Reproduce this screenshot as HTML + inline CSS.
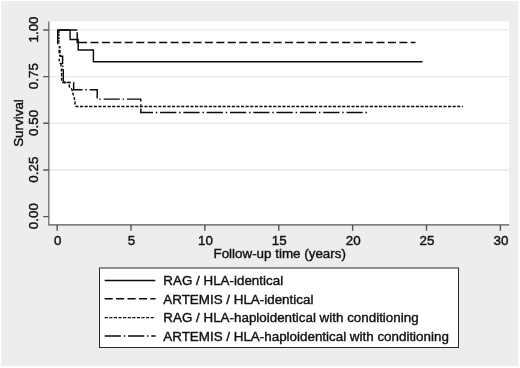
<!DOCTYPE html>
<html><head><meta charset="utf-8"><title>Survival</title>
<style>
html,body{margin:0;padding:0;background:#fff;}
body{width:520px;height:368px;overflow:hidden;}
svg{display:block;}
text{font-family:"Liberation Sans",sans-serif;font-size:13.4px;fill:#111;stroke:#111;stroke-width:0.4px;}
</style></head><body>
<svg width="520" height="368" viewBox="0 0 520 368">
<rect x="0" y="0" width="520" height="368" fill="#fff"/>
<rect x="1.2" y="1.1" width="517.4" height="364.9" fill="#ededed"/>
<rect x="48.5" y="21.4" width="460.6" height="203.6" fill="#fff"/>
<!-- grid -->
<g stroke="#e9e9e9" stroke-width="1.3">
<line x1="48.5" x2="509.1" y1="29.8" y2="29.8"/>
<line x1="48.5" x2="509.1" y1="76.6" y2="76.6"/>
<line x1="48.5" x2="509.1" y1="123.3" y2="123.3"/>
<line x1="48.5" x2="509.1" y1="170" y2="170"/>
</g>
<!-- axes -->
<g stroke="#555" stroke-width="1.15" fill="none">
<path d="M48.85 21.4V224.9H509.1"/>
<path stroke-width="1.4" d="M43.2 30H48.85M43.2 76.65H48.85M43.2 123.3H48.85M43.2 170H48.85M43.2 216.65H48.85"/>
<path stroke-width="1.4" d="M57.15 225V230.7M131.03 225V230.7M204.90 225V230.7M278.77 225V230.7M352.65 225V230.7M426.52 225V230.7M500.40 225V230.7"/>
</g>
<!-- curves -->
<g stroke="#0a0a0a" stroke-width="1.45" fill="none" stroke-linejoin="miter">
<path d="M57.6 30H70.1V39.5H78.2V50H93.4V61.75H422.5"/>
<path d="M57.6 30H77.2M77.2 32.3V42.5H87"/>
<path d="M90.5 42.5H415.5" stroke-dasharray="8 3.44"/>
<path d="M57.7 30V44.2M59.8 56.2H62.6V63.4L60.7 64.1"/>
<path d="M58.9 30.6V44" stroke-dasharray="2.3 0.9"/>
<path d="M59.6 46V48.3" stroke-width="1.8"/>
<path d="M59.5 49.7V53.3M60.1 54.7V56.4" stroke-width="2.2"/>
<path d="M59.2 58.7V61.2M60 62.9L61.2 64.6M62.4 65.9L63.4 66.8"/>
<path d="M61.3 67L61.6 72V81L63 82.4H69.3V86.7L71.9 89.3L72.8 93.2L74.1 97.1L75 101.5V105.1L76.3 106.45H462.8" stroke-dasharray="3.1 1.5" stroke-dashoffset="-1.45"/>
<path d="M60.6 64.4L62 68.3L63.3 70V80.7L64.5 82.5H73.65V89.7H97.2V99.1H140.8V112.5H367.5" stroke-dasharray="16.2 2.8 1.5 2.8" stroke-dashoffset="18.36"/>
</g>
<!-- y labels -->
<g text-anchor="middle">
<text transform="translate(38.3 29.5) rotate(-90)">1.00</text>
<text transform="translate(38.3 76.2) rotate(-90)">0.75</text>
<text transform="translate(38.3 122.9) rotate(-90)">0.50</text>
<text transform="translate(38.3 169.6) rotate(-90)">0.25</text>
<text transform="translate(38.3 216.2) rotate(-90)">0.00</text>
<text transform="translate(23.3 123) rotate(-90)">Survival</text>
<text x="57.65" y="244.8">0</text>
<text x="131.53" y="244.8">5</text>
<text x="205.40" y="244.8">10</text>
<text x="279.27" y="244.8">15</text>
<text x="353.15" y="244.8">20</text>
<text x="427.02" y="244.8">25</text>
<text x="500.90" y="244.8">30</text>
<text x="279.7" y="257.8">Follow-up time (years)</text>
</g>
<!-- legend -->
<rect x="99.5" y="268" width="359" height="79.5" fill="#fff" stroke="#2a2a2a" stroke-width="1"/>
<g stroke="#0a0a0a" stroke-width="1.45" fill="none">
<path d="M104.7 280.5H155.3"/>
<path d="M104.7 298.7H155.6" stroke-dasharray="8 3.44"/>
<path d="M104.7 317.6H155.5" stroke-dasharray="3.1 1.5"/>
<path d="M104.7 336H155.6" stroke-dasharray="16.2 2.8 1.5 2.8"/>
</g>
<text x="163.3" y="285">RAG / HLA-identical</text>
<text x="163.3" y="303.7">ARTEMIS / HLA-identical</text>
<text x="163.3" y="322.4">RAG / HLA-haploidentical with conditioning</text>
<text x="163.3" y="340.5">ARTEMIS / HLA-haploidentical with conditioning</text>
</svg>
</body></html>
